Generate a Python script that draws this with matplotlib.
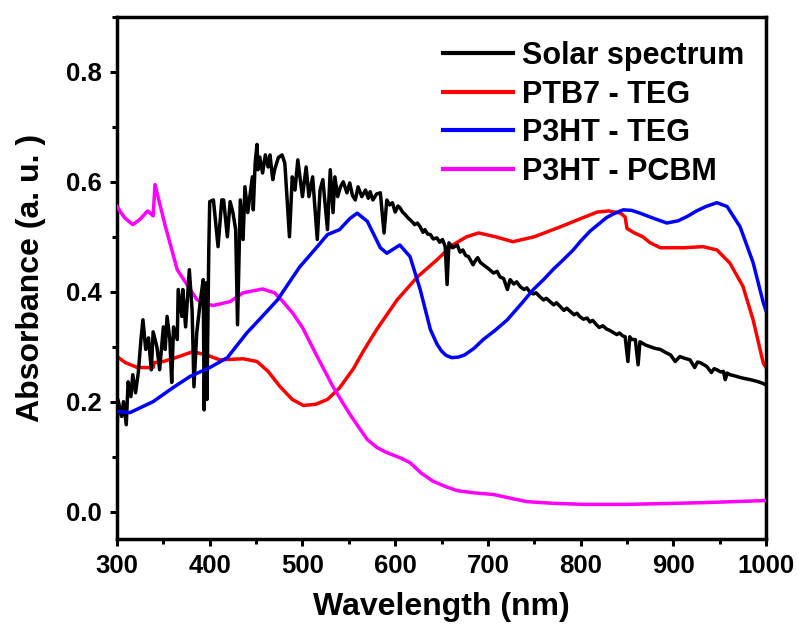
import matplotlib
matplotlib.use("Agg")
import matplotlib.pyplot as plt
from matplotlib.ticker import MultipleLocator

plt.rcParams['font.family'] = ['Liberation Sans', 'DejaVu Sans']
plt.rcParams['font.weight'] = 'bold'

# Solar spectrum (scaled to the absorbance axis), one row per wavelength band
solar_wl = [
    300, 301, 305, 307, 310, 312, 315, 317, 320, 323, 326, 328, 331, 334, 337, 339, 343,
    346, 350, 352, 354, 357, 359, 361, 365, 366, 370, 371, 374, 378, 381, 383, 386, 390,
    393, 394, 396, 397, 399,
    400, 404, 409, 413, 415, 419, 422, 425, 428, 430, 433, 436, 438, 441, 446, 447, 449,
    451, 452, 454, 457, 460, 463, 465, 468, 470, 474, 478, 481, 486, 489, 492, 495, 500,
    504, 507, 511, 516, 519, 522, 527, 530, 533, 535, 538,
    541, 544, 548, 551, 554, 557, 560, 564, 568, 571, 573, 576, 580, 584, 588, 591, 594,
    597, 600,
    603, 605, 608, 611, 614, 616, 619, 621, 624, 627, 630, 632, 635, 638, 641, 645, 648,
    651, 654, 656, 658, 662,
    667, 670, 673, 676, 679, 682, 684, 687, 689, 692, 696, 699, 702, 706, 710, 713, 717,
    721, 724, 728, 731, 735, 739, 742, 745,
    749, 752, 756, 760, 763, 767, 771, 774, 778, 782, 785, 789, 793, 796, 799, 803, 807,
    810, 813, 817, 820, 824, 828, 831, 835, 839, 842, 845, 848,
    851, 853, 855, 859, 862, 864, 866, 870, 875, 880, 886, 891, 897, 902, 907, 912, 918,
    923, 926, 929, 936, 941, 944, 947, 951, 954, 956, 958, 961, 966, 972, 977, 983, 990,
    997, 1000,
]
solar_val = [
    0.137, 0.204, 0.173, 0.200, 0.158, 0.236, 0.209, 0.249, 0.216, 0.253, 0.316, 0.349,
    0.295, 0.316, 0.258, 0.327, 0.300, 0.258, 0.336, 0.295, 0.355, 0.313, 0.235, 0.336,
    0.313, 0.404, 0.355, 0.404, 0.336, 0.440, 0.367, 0.227, 0.325, 0.385, 0.422, 0.185,
    0.416, 0.204, 0.476,
    0.564, 0.567, 0.482, 0.567, 0.567, 0.500, 0.564, 0.544, 0.513, 0.340, 0.567, 0.495,
    0.591, 0.544, 0.609, 0.549, 0.634, 0.668, 0.622, 0.645, 0.616, 0.649, 0.627, 0.649,
    0.604, 0.622, 0.644, 0.649, 0.634, 0.500, 0.609, 0.585, 0.640, 0.573, 0.627, 0.573,
    0.609, 0.495, 0.585, 0.604, 0.513, 0.622, 0.544, 0.609, 0.573,
    0.591, 0.600, 0.580, 0.598, 0.575, 0.567, 0.591, 0.573, 0.585, 0.570, 0.582, 0.567,
    0.578, 0.580, 0.507, 0.567, 0.558, 0.562, 0.545,
    0.556, 0.553, 0.545, 0.540, 0.534, 0.531, 0.526, 0.522, 0.525, 0.518, 0.508, 0.513,
    0.505, 0.504, 0.496, 0.498, 0.490, 0.495, 0.482, 0.413, 0.489, 0.480,
    0.485, 0.472, 0.476, 0.466, 0.464, 0.455, 0.449, 0.458, 0.462, 0.453, 0.448, 0.444,
    0.440, 0.434, 0.437, 0.427, 0.424, 0.404, 0.422, 0.414, 0.418, 0.409, 0.404, 0.407,
    0.400,
    0.396, 0.398, 0.391, 0.385, 0.388, 0.382, 0.376, 0.380, 0.373, 0.366, 0.370, 0.364,
    0.358, 0.361, 0.355, 0.350, 0.352, 0.345, 0.348, 0.340, 0.335, 0.338, 0.332, 0.330,
    0.326, 0.322, 0.325, 0.320, 0.318,
    0.273, 0.318, 0.313, 0.313, 0.267, 0.309, 0.307, 0.303, 0.300, 0.297, 0.295, 0.290,
    0.285, 0.273, 0.282, 0.279, 0.276, 0.262, 0.272, 0.271, 0.264, 0.253, 0.260, 0.258,
    0.254, 0.255, 0.240, 0.252, 0.249, 0.247, 0.244, 0.242, 0.240, 0.237, 0.233, 0.230,
]

# PTB7 - TEG
ptb7_wl = [300, 309, 322, 339, 340, 350, 365, 382, 398, 411, 436, 451, 463, 476, 489,
           501, 514, 527, 540, 555, 565, 580, 602, 624, 645, 662, 677, 690, 708, 727,
           750, 778, 800, 818, 830, 843, 848, 850, 858, 867, 875, 886, 911, 932, 947,
           961, 975, 986, 997, 1000]
ptb7_val = [0.282, 0.271, 0.262, 0.262, 0.271, 0.273, 0.281, 0.291, 0.284, 0.276, 0.278,
            0.273, 0.255, 0.227, 0.204, 0.193, 0.195, 0.204, 0.225, 0.260, 0.290, 0.331,
            0.385, 0.427, 0.458, 0.485, 0.500, 0.507, 0.500, 0.491, 0.500, 0.518, 0.533,
            0.545, 0.547, 0.543, 0.536, 0.515, 0.507, 0.500, 0.489, 0.480, 0.480, 0.482,
            0.476, 0.452, 0.410, 0.349, 0.270, 0.262]

# P3HT - TEG
p3ht_teg_wl = [300, 314, 339, 360, 379, 400, 419, 440, 455, 473, 487, 497, 516, 527,
               540, 551, 559, 570, 584, 591, 605, 616, 627, 638, 645, 650, 655, 661,
               668, 675, 685, 695, 708, 721, 735, 749, 760, 770, 780, 792, 800, 810,
               828, 837, 846, 855, 864, 878, 893, 905, 915, 925, 935, 947, 958, 972,
               986, 997, 1000]
p3ht_teg_val = [0.182, 0.180, 0.200, 0.225, 0.246, 0.262, 0.280, 0.325, 0.352, 0.385,
                0.420, 0.445, 0.482, 0.504, 0.513, 0.533, 0.543, 0.528, 0.480, 0.470,
                0.485, 0.464, 0.404, 0.331, 0.305, 0.292, 0.284, 0.280, 0.281, 0.285,
                0.297, 0.313, 0.330, 0.349, 0.376, 0.404, 0.422, 0.440, 0.456, 0.476,
                0.492, 0.510, 0.535, 0.543, 0.549, 0.548, 0.543, 0.534, 0.525, 0.529,
                0.537, 0.547, 0.555, 0.562, 0.555, 0.518, 0.453, 0.380, 0.365]

# P3HT - PCBM
pcbm_wl = [300, 308, 317, 325, 333, 339, 341, 352, 365, 379, 386, 395, 404, 422, 436,
           457, 470, 479, 490, 500, 515, 533, 550, 560, 570, 580, 590, 605, 616, 628,
           641, 655, 667, 685, 706, 725, 742, 770, 803, 850, 929, 1000]
pcbm_val = [0.555, 0.535, 0.522, 0.532, 0.547, 0.538, 0.595, 0.520, 0.440, 0.404, 0.386,
            0.378, 0.375, 0.382, 0.398, 0.405, 0.398, 0.382, 0.360, 0.335, 0.285, 0.227,
            0.180, 0.155, 0.131, 0.117, 0.108, 0.098, 0.089, 0.070, 0.055, 0.045, 0.038,
            0.034, 0.031, 0.024, 0.018, 0.015, 0.013, 0.013, 0.016, 0.020]

labels = ['Solar spectrum', 'PTB7 - TEG', 'P3HT - TEG', 'P3HT - PCBM']

fig = plt.figure(figsize=(7.98, 6.28), dpi=100)
ax = fig.add_axes([0.1466, 0.1417, 0.8134, 0.8313])

lw = 2.5
ax.plot(solar_wl, solar_val, color='black', lw=lw, label=labels[0], zorder=4)
ax.plot(ptb7_wl, ptb7_val, color='#ff0000', lw=lw, label=labels[1], zorder=2)
ax.plot(p3ht_teg_wl, p3ht_teg_val, color='#0000ff', lw=lw, label=labels[2], zorder=5)
ax.plot(pcbm_wl, pcbm_val, color='#ff00ff', lw=lw, label=labels[3], zorder=3)

ax.set_xlim(300, 1000)
ax.set_ylim(-0.05, 0.9)
ax.xaxis.set_major_locator(MultipleLocator(100))
ax.xaxis.set_minor_locator(MultipleLocator(50))
ax.yaxis.set_major_locator(MultipleLocator(0.2))
ax.yaxis.set_minor_locator(MultipleLocator(0.1))

for sp in ax.spines.values():
    sp.set_linewidth(2.5)
ax.tick_params(which='major', direction='out', length=5, width=2.2,
               labelsize=18.5, pad=6)
ax.tick_params(which='minor', direction='out', length=3.5, width=2.2)
for lab in ax.get_xticklabels() + ax.get_yticklabels():
    lab.set_fontweight('bold')

ax.set_xlabel('Wavelength (nm)', fontsize=23, fontweight='bold', labelpad=10)
ax.set_ylabel('Absorbance (a. u. )', fontsize=23, fontweight='bold', labelpad=14)

leg = ax.legend(loc='upper right', bbox_to_anchor=(1.0, 0.995), frameon=False,
                prop={'size': 22, 'weight': 'bold'}, handlelength=2.3,
                handletextpad=0.3, labelspacing=0.28, borderaxespad=0.3)
for h in leg.get_lines():
    h.set_linewidth(3)

fig.savefig('out.png', dpi=100)
